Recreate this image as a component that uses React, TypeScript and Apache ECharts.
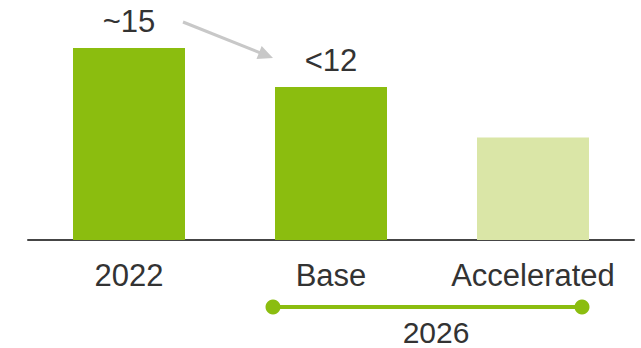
import React, { useEffect, useRef } from "react";
import * as echarts from "echarts";

const categories = ["2022", "Base", "Accelerated"];
const values = [15, 11.95, 8];
const valueLabels = ["~15", "<12", ""];
const barColors = ["#8BBD0F", "#8BBD0F", "#DAE6A7"];
const groupLabel = "2026";
const groupStart = 1;
const groupEnd = 2;

export default function App() {
  const ref = useRef<HTMLDivElement>(null);
  useEffect(() => {
    if (!ref.current) return;
    const chart = echarts.init(ref.current, null, { renderer: "svg" });
    const font = "'Liberation Sans', Arial, sans-serif";
    chart.setOption({
      animation: false,
      grid: { left: 28, right: 7, top: 48, bottom: 108 },
      xAxis: {
        type: "category",
        data: categories,
        axisLine: { lineStyle: { color: "#454545", width: 2 } },
        axisTick: { show: false },
        axisLabel: { interval: 0, fontSize: 31, color: "#333333", fontFamily: font, margin: 20 },
      },
      yAxis: { type: "value", min: 0, max: 15, show: false, splitLine: { show: false } },
      series: [
        {
          type: "bar",
          barWidth: 112,
          data: values.map((v, i) => ({
            value: v,
            itemStyle: { color: barColors[i] },
            label: {
              show: valueLabels[i] !== "",
              position: "top",
              distance: 11,
              formatter: valueLabels[i],
              fontSize: 31,
              color: "#333333",
              fontFamily: font,
            },
          })),
        },
      ],
    });

    const c0 = chart.convertToPixel({ xAxisIndex: 0 }, 0) as number;
    const c1 = chart.convertToPixel({ xAxisIndex: 0 }, groupStart) as number;
    const c2 = chart.convertToPixel({ xAxisIndex: 0 }, groupEnd) as number;
    const y0 = chart.convertToPixel({ yAxisIndex: 0 }, values[0]) as number;
    const y1 = chart.convertToPixel({ yAxisIndex: 0 }, values[1]) as number;
    const axisY = chart.convertToPixel({ yAxisIndex: 0 }, 0) as number;

    const sx = c0 + 54, sy = y0 - 26;
    const ex = c1 - 58, ey = y1 - 29;
    const ang = Math.atan2(ey - sy, ex - sx);
    const headLen = 15, headW = 7;
    const bx = ex - headLen * Math.cos(ang), by = ey - headLen * Math.sin(ang);
    const px = -Math.sin(ang), py = Math.cos(ang);

    const lineY = axisY + 67;
    const lx = c1 - 58, rx = c2 + 49;

    chart.setOption({
      graphic: [
        {
          type: "line",
          shape: { x1: sx, y1: sy, x2: bx + 2 * Math.cos(ang), y2: by + 2 * Math.sin(ang) },
          style: { stroke: "#C8C8C8", lineWidth: 3 },
        },
        {
          type: "polygon",
          shape: {
            points: [
              [ex, ey],
              [bx + px * headW, by + py * headW],
              [bx - px * headW, by - py * headW],
            ],
          },
          style: { fill: "#C8C8C8" },
        },
        {
          type: "line",
          shape: { x1: lx, y1: lineY, x2: rx, y2: lineY },
          style: { stroke: "#8BBD0F", lineWidth: 4 },
        },
        { type: "circle", shape: { cx: lx, cy: lineY, r: 7.5 }, style: { fill: "#8BBD0F" } },
        { type: "circle", shape: { cx: rx, cy: lineY, r: 7.5 }, style: { fill: "#8BBD0F" } },
        {
          type: "text",
          x: (c1 + c2) / 2 + 4,
          y: lineY + 25.5,
          style: {
            text: groupLabel,
            fontSize: 30,
            fill: "#333333",
            fontFamily: font,
            align: "center",
            verticalAlign: "middle",
          },
        },
      ],
    });
    return () => chart.dispose();
  }, []);
  return <div ref={ref} style={{ width: 641, height: 348, position: "absolute", left: 0, top: 0 }} />;
}
